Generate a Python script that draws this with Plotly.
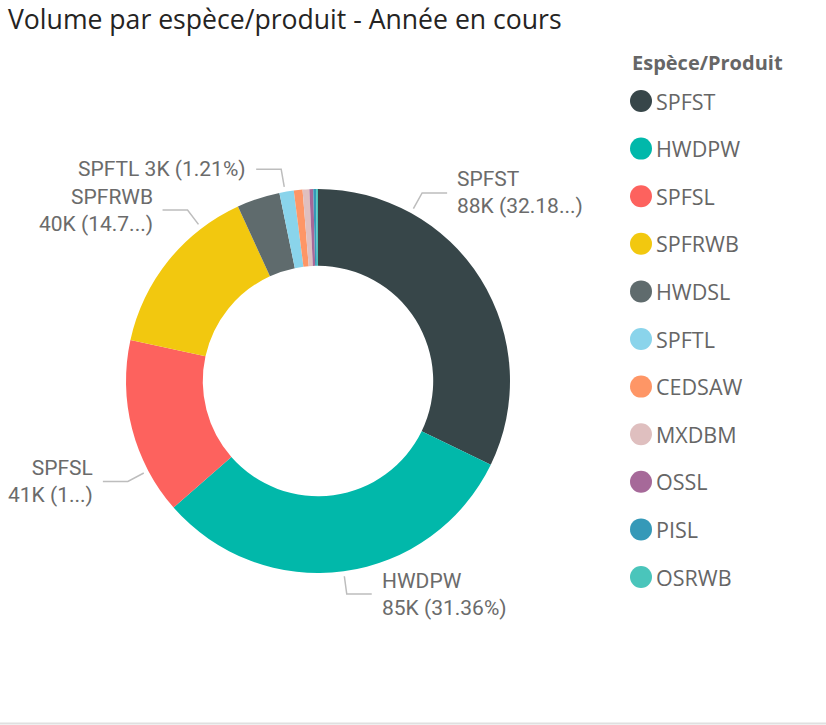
import math
import plotly.graph_objects as go

# ---------------- data ----------------
categories = ["SPFST", "HWDPW", "SPFSL", "SPFRWB", "HWDSL", "SPFTL",
              "CEDSAW", "MXDBM", "OSSL", "PISL", "OSRWB"]
volumes = [87990, 85740, 40700, 40250, 9900, 3300, 2000, 1550, 880, 650, 430]
label_texts = {
    "SPFST": "SPFST<br>88K (32.18...)",
    "HWDPW": "HWDPW<br>85K (31.36%)",
    "SPFSL": "SPFSL<br>41K (1...)",
    "SPFRWB": "SPFRWB<br>40K (14.7...)",
    "SPFTL": "SPFTL 3K (1.21%)",
}
title_text = "Volume par espèce/produit - Année en cours"
legend_title = "Espèce/Produit"

# ---------------- styles ----------------
colors = ["#374649", "#01B8AA", "#FD625E", "#F2C80F", "#5F6B6D", "#8AD4EB",
          "#FE9666", "#DFBFBF", "#A66999", "#3599B8", "#4AC5BB"]
label_frac = {"SPFST": 0.25, "HWDPW": 0.5, "SPFSL": 0.25, "SPFRWB": 0.76, "SPFTL": 0.4}

W, H = 826, 725
CX, CY, R = 318, 381, 192
HOLE = 0.6
LABEL_FONT = dict(family="Roboto, DejaVu Sans", size=21, color="#6b6b6b")
UI_FONT = "Segoe UI, Open Sans, Noto Sans"

fig = go.Figure()

fig.add_trace(go.Pie(
    labels=categories, values=volumes, sort=False, direction="clockwise",
    rotation=0, hole=HOLE, marker=dict(colors=colors, line=dict(width=0)),
    textinfo="none", hoverinfo="label+value+percent", showlegend=False,
    domain=dict(x=[(CX - R) / W, (CX + R) / W], y=[1 - (CY + R) / H, 1 - (CY - R) / H]),
))

# leader lines and labels computed from slice angles
total = sum(volumes)
cum = 0.0
annotations = []
for name, v in zip(categories, volumes):
    start = cum / total * 360
    cum += v
    end = cum / total * 360
    if name not in label_texts:
        continue
    th = math.radians(start + (end - start) * label_frac[name])
    sx, sy = math.sin(th), -math.cos(th)
    p0 = (CX + (R + 5) * sx, CY + (R + 5) * sy)
    p1 = (CX + (R + 23) * sx, CY + (R + 23) * sy)
    side = 1 if sx > 0 else -1
    p2 = (p1[0] + side * 25, p1[1])
    fig.add_trace(go.Scatter(
        x=[p0[0], p1[0], p2[0]], y=[p0[1], p1[1], p2[1]], mode="lines",
        line=dict(color="#bdbdbd", width=1.5), hoverinfo="skip", showlegend=False,
        xaxis="x", yaxis="y"))
    annotations.append(dict(
        x=p2[0] + side * 8, y=p2[1], xref="x", yref="y", text=label_texts[name],
        showarrow=False, xanchor="left" if side > 0 else "right", yanchor="middle",
        align="left" if side > 0 else "right", font=LABEL_FONT))

# custom legend
LEG_X, LEG_Y0, LEG_DY = 641, 101, 47.6
leg_y = [LEG_Y0 + i * LEG_DY for i in range(len(categories))]
fig.add_trace(go.Scatter(
    x=[LEG_X] * len(categories), y=leg_y, mode="markers",
    marker=dict(size=22, color=colors, line=dict(width=0)),
    hoverinfo="skip", showlegend=False, xaxis="x", yaxis="y"))
for name, y in zip(categories, leg_y):
    annotations.append(dict(
        x=LEG_X + 13, y=y, xref="x", yref="y", text=name, showarrow=False,
        xanchor="left", yanchor="middle",
        font=dict(family=UI_FONT, size=21.5, color="#666666")))
annotations.append(dict(
    x=LEG_X - 11, y=62, xref="x", yref="y", text="<b>" + legend_title + "</b>",
    showarrow=False, xanchor="left", yanchor="middle",
    font=dict(family=UI_FONT, size=20, color="#666666")))
annotations.append(dict(
    x=6, y=19, xref="x", yref="y", text=title_text, showarrow=False,
    xanchor="left", yanchor="middle",
    font=dict(family=UI_FONT, size=26.6, color="#252423")))

fig.update_layout(
    width=W, height=H, margin=dict(l=0, r=0, t=0, b=0),
    paper_bgcolor="white", plot_bgcolor="rgba(0,0,0,0)",
    xaxis=dict(range=[0, W], visible=False, fixedrange=True),
    yaxis=dict(range=[H, 0], visible=False, fixedrange=True),
    annotations=annotations,
    shapes=[dict(type="line", xref="x", yref="y", x0=0, x1=W, y0=723.5, y1=723.5,
                 line=dict(color="#e0e0e0", width=2))],
)

fig.write_html("out.html", config={"displayModeBar": False},
               post_script="document.body.style.margin='0';document.body.style.overflow='hidden';")
